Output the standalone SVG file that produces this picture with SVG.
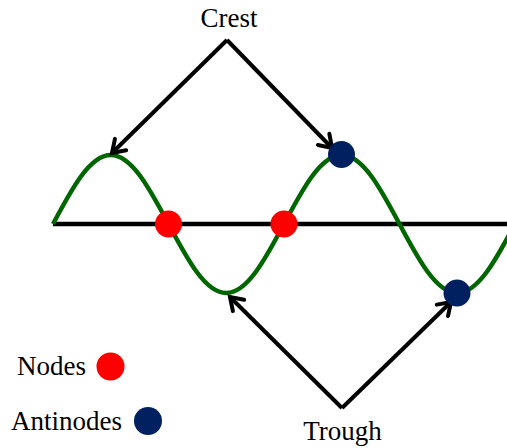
<svg xmlns="http://www.w3.org/2000/svg" width="507" height="448" viewBox="0 0 507 448">
<style>
.lbl{font-family:"Liberation Serif","Times New Roman",serif;font-size:27px;fill:#000}
.conn{stroke:#000;stroke-width:4;fill:none;marker-end:url(#ah)}
.node{fill:#ff0000}
.anti{fill:#002060}
</style>
<defs>
<marker id="ah" markerUnits="userSpaceOnUse" markerWidth="20" markerHeight="20" viewBox="-14 -10 16 20" refX="0" refY="0" orient="auto">
<path d="M-12,-8 L0,0 L-12,8" fill="none" stroke="#000" stroke-width="4" stroke-linecap="round" stroke-linejoin="miter"/>
</marker>
</defs>
<g id="axis"><line x1="53" y1="224" x2="507" y2="224" stroke="#000" stroke-width="4.5"/></g>
<g id="wave"><path d="M53,224 C71.84,188.65 89.81,155 110.75,155 C131.69,155 149.66,188.65 168.5,224 C187.34,259.35 205.31,293 226.25,293 C247.19,293 265.16,259.35 284,224 C302.84,188.65 320.81,155 341.75,155 C362.69,155 380.66,188.65 399.5,224 C418.34,259.35 436.31,293 457.25,293 C478.19,293 496.16,259.35 515,224" fill="none" stroke="#006600" stroke-width="4.5"/></g>
<g id="connectors">
<path class="conn" d="M227,40 L112,153"/>
<path class="conn" d="M227,40 L332,148"/>
<path class="conn" d="M342,408 L230,297"/>
<path class="conn" d="M342,408 L451,302"/>
</g>
<g id="node1"><circle class="node" cx="168.5" cy="224" r="13.5"/></g>
<g id="node2"><circle class="node" cx="284" cy="224" r="13.5"/></g>
<g id="antinode1"><circle class="anti" cx="341.5" cy="154.5" r="13.5"/></g>
<g id="antinode2"><circle class="anti" cx="457" cy="293" r="13.5"/></g>
<g id="crest"><text class="lbl" x="229" y="27" text-anchor="middle">Crest</text></g>
<g id="trough"><text class="lbl" x="342.5" y="440" text-anchor="middle">Trough</text></g>
<g id="legend-nodes"><text class="lbl" x="17" y="375">Nodes</text><circle class="node" cx="110.5" cy="366.5" r="14"/></g>
<g id="legend-antinodes"><text class="lbl" x="11" y="430">Antinodes</text><circle class="anti" cx="148" cy="421" r="14"/></g>
</svg>
